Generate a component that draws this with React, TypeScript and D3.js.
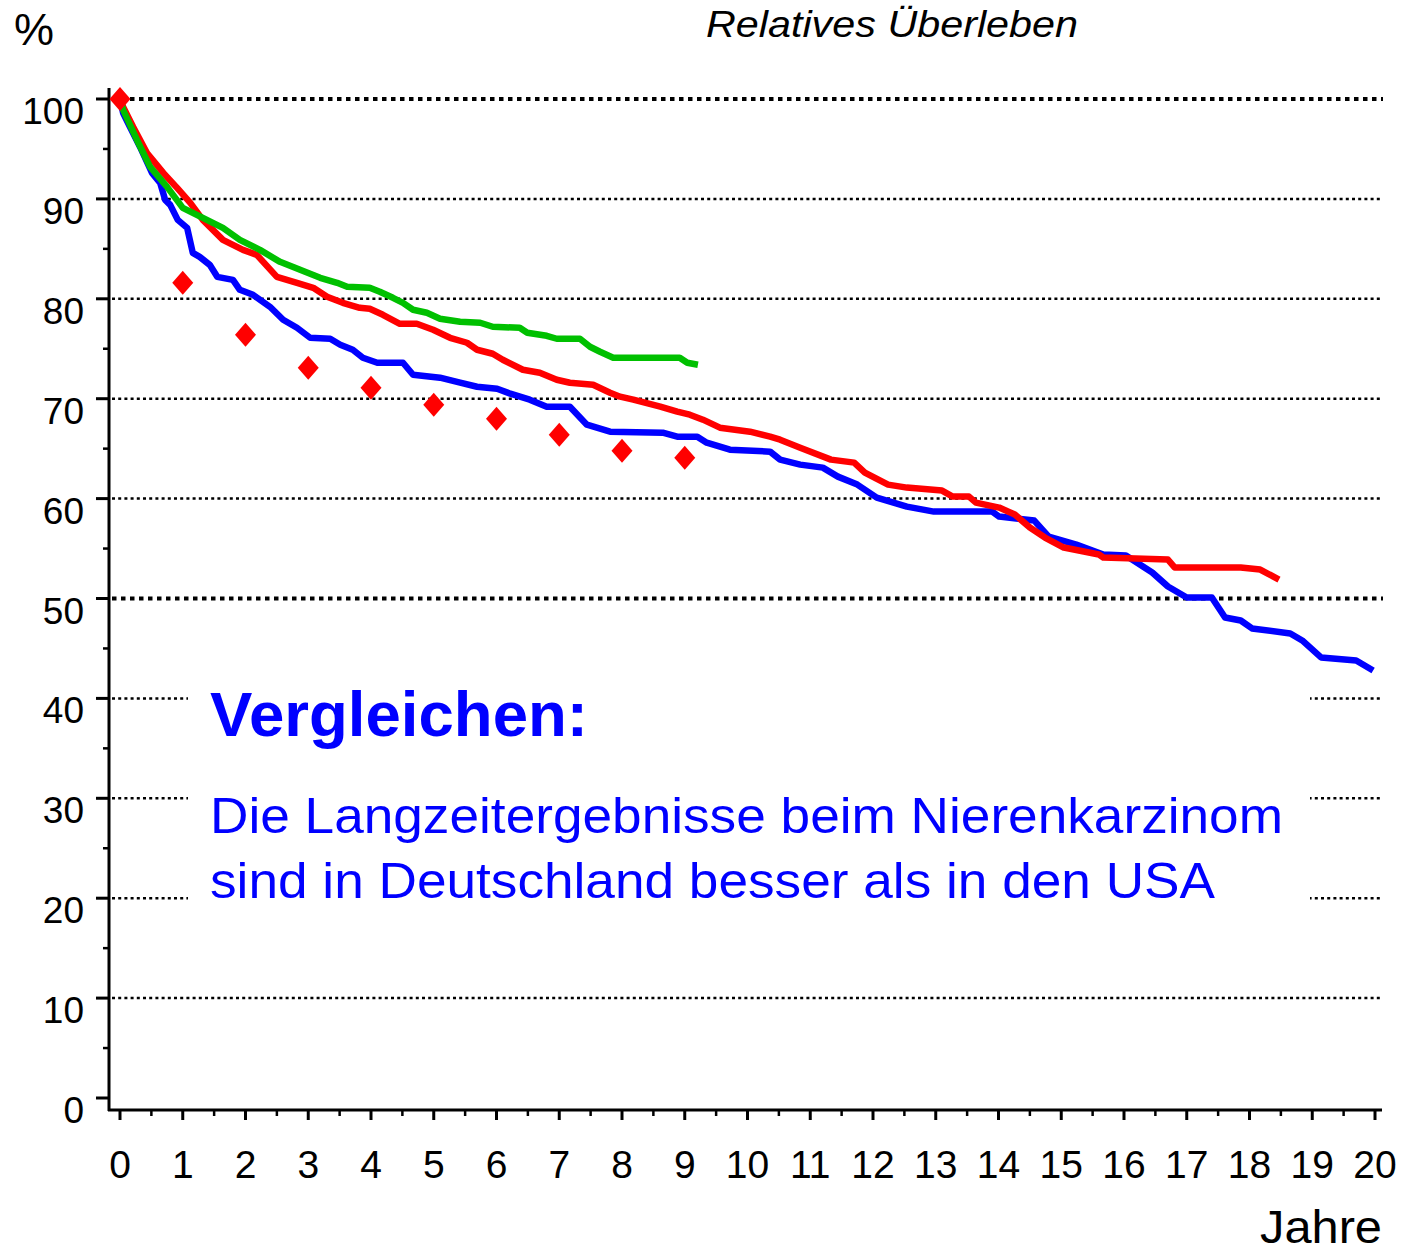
import React from "react";
import * as d3 from "d3";

// Relatives Überleben (Jahre, %)
const blueSeries: [number, number][] = [
  [0, 100], [0.05, 98.6], [0.16, 97.2], [0.32, 95.2], [0.51, 92.6], [0.64, 91.6], [0.72, 89.9],
  [0.8, 89.4], [0.92, 87.9], [1.07, 87.1], [1.16, 84.6], [1.27, 84.2], [1.43, 83.4], [1.55, 82.2],
  [1.8, 81.9], [1.91, 80.9], [2.12, 80.4], [2.39, 79.2], [2.6, 77.9], [2.82, 77.1], [3.03, 76.1],
  [3.35, 76.0], [3.51, 75.4], [3.71, 74.9], [3.87, 74.1], [4.1, 73.6], [4.51, 73.6], [4.67, 72.4],
  [5.1, 72.1], [5.42, 71.6], [5.69, 71.2], [6.01, 71.0], [6.22, 70.5], [6.53, 69.9], [6.8, 69.2],
  [7.17, 69.2], [7.44, 67.4], [7.81, 66.7], [8.65, 66.6], [8.88, 66.2], [9.2, 66.2], [9.35, 65.6],
  [9.72, 64.9], [10.36, 64.7], [10.52, 63.9], [10.84, 63.4], [11.2, 63.1], [11.44, 62.2],
  [11.75, 61.4], [12.06, 60.1], [12.54, 59.2], [12.97, 58.7], [13.9, 58.7], [14.01, 58.2],
  [14.57, 57.8], [14.8, 56.2], [15.24, 55.4], [15.67, 54.4], [16.03, 54.3], [16.45, 52.6],
  [16.7, 51.2], [17.0, 50.1], [17.4, 50.1], [17.61, 48.1], [17.86, 47.8], [18.04, 47.0],
  [18.65, 46.5], [18.84, 45.8], [19.14, 44.1], [19.7, 43.8], [19.97, 42.8],
];

const redSeries: [number, number][] = [
  [0, 100], [0.05, 99.2], [0.21, 97.2], [0.43, 94.6], [0.69, 92.6], [0.91, 91.1], [1.12, 89.6],
  [1.32, 87.9], [1.64, 85.9], [1.96, 84.9], [2.18, 84.4], [2.5, 82.2], [2.82, 81.6], [3.08, 81.1],
  [3.3, 80.2], [3.55, 79.6], [3.82, 79.1], [3.98, 79.0], [4.19, 78.4], [4.46, 77.5], [4.73, 77.5],
  [4.99, 76.9], [5.26, 76.1], [5.53, 75.6], [5.69, 74.9], [5.94, 74.5], [6.1, 73.9], [6.42, 72.9],
  [6.69, 72.6], [6.96, 71.9], [7.17, 71.6], [7.54, 71.4], [7.81, 70.6], [7.97, 70.2], [8.18, 69.9],
  [8.61, 69.2], [8.88, 68.7], [9.08, 68.4], [9.29, 67.9], [9.56, 67.1], [10.04, 66.7],
  [10.36, 66.2], [10.52, 65.9], [10.84, 65.1], [11.33, 63.9], [11.7, 63.6], [11.87, 62.6],
  [12.24, 61.4], [12.54, 61.1], [13.1, 60.8], [13.27, 60.2], [13.53, 60.2], [13.64, 59.6],
  [14.01, 59.1], [14.26, 58.4], [14.5, 57.1], [14.74, 56.1], [15.04, 55.1], [15.6, 54.4],
  [15.67, 54.1], [16.7, 53.9], [16.81, 53.1], [17.86, 53.1], [18.17, 52.9], [18.47, 51.9],
];

const greenSeries: [number, number][] = [
  [0, 100], [0.05, 98.9], [0.27, 95.9], [0.48, 93.2], [0.75, 91.2], [1.0, 89.1], [1.32, 88.1],
  [1.64, 87.1], [1.91, 85.9], [2.23, 84.9], [2.55, 83.7], [2.87, 82.9], [3.19, 82.1], [3.46, 81.6],
  [3.62, 81.2], [3.98, 81.1], [4.14, 80.7], [4.35, 80.1], [4.51, 79.6], [4.67, 78.9], [4.89, 78.6],
  [5.1, 78.0], [5.42, 77.7], [5.74, 77.6], [5.94, 77.2], [6.37, 77.1], [6.49, 76.6], [6.8, 76.3],
  [6.96, 76.0], [7.33, 76.0], [7.49, 75.2], [7.65, 74.7], [7.86, 74.1], [8.92, 74.1], [9.04, 73.6],
  [9.21, 73.4],
];

// red diamonds (USA reference values)
const diamondYears = [0, 1, 2, 3, 4, 5, 6, 7, 8, 9];
const diamondValues = [100, 81.6, 76.4, 73.1, 71.1, 69.4, 68.0, 66.4, 64.8, 64.1];

const xTicks = d3.range(0, 21);
const yTicks = d3.range(0, 101, 10);
const thickGrid = [100, 50];
const breakGrid = [40, 30, 20];

const font = "'Liberation Sans', Arial, sans-serif";

export default function App() {
  const x = d3.scaleLinear().domain([0, 20]).range([120, 1375]);
  const y = d3.scaleLinear().domain([0, 100]).range([1098, 99]);

  const line = d3
    .line<[number, number]>()
    .x((d) => x(d[0]))
    .y((d) => y(d[1]))
    .curve(d3.curveLinear);

  const diamond = (cx: number, cy: number) =>
    `M${cx},${cy - 12}L${cx + 10.5},${cy}L${cx},${cy + 12}L${cx - 10.5},${cy}Z`;

  return (
    <svg
      width={1403}
      height={1252}
      style={{ position: "absolute", left: 0, top: 0, background: "#fff" }}
      fontFamily={font}
    >
      <rect width={1403} height={1252} fill="#fff" />

      {/* grid lines */}
      {yTicks.filter((t) => t > 0).map((t) => {
        const thick = thickGrid.includes(t);
        return (
          <line
            key={"g" + t}
            x1={112}
            x2={1383}
            y1={y(t)}
            y2={y(t)}
            stroke="#000"
            strokeWidth={thick ? 4 : 2.5}
            strokeDasharray={thick ? "4.5,4.5" : "3,3.2"}
          />
        );
      })}
      {/* white panel behind the annotation cuts the grid lines */}
      <rect x={188} y={y(breakGrid[0]) - 20} width={1122} height={y(breakGrid[2]) - y(breakGrid[0]) + 40} fill="#fff" />

      {/* y axis */}
      <line x1={109} x2={109} y1={88} y2={1111} stroke="#000" strokeWidth={3} />
      {yTicks.map((t) => (
        <g key={"y" + t}>
          <line x1={96} x2={109} y1={y(t)} y2={y(t)} stroke="#000" strokeWidth={3} />
          <text x={84} y={y(t) + 25} textAnchor="end" fontSize={37}>
            {t}
          </text>
        </g>
      ))}
      {yTicks.slice(0, -1).map((t) => (
        <line key={"ym" + t} x1={103} x2={109} y1={y(t + 5)} y2={y(t + 5)} stroke="#000" strokeWidth={2.5} />
      ))}

      {/* x axis */}
      <line x1={108} x2={1382} y1={1110} y2={1110} stroke="#000" strokeWidth={3} />
      {xTicks.map((t) => (
        <g key={"x" + t}>
          <line x1={x(t)} x2={x(t)} y1={1110} y2={1120} stroke="#000" strokeWidth={3} />
          <text x={x(t)} y={1178} textAnchor="middle" fontSize={39}>
            {t}
          </text>
        </g>
      ))}
      {xTicks.slice(0, -1).map((t) => (
        <line key={"xm" + t} x1={x(t + 0.5)} x2={x(t + 0.5)} y1={1110} y2={1116} stroke="#000" strokeWidth={2.5} />
      ))}

      {/* curves */}
      <path d={line(blueSeries) ?? ""} fill="none" stroke="#0000ff" strokeWidth={6.5} strokeLinejoin="round" />
      <path d={line(redSeries) ?? ""} fill="none" stroke="#ff0000" strokeWidth={6.5} strokeLinejoin="round" />
      <path d={line(greenSeries) ?? ""} fill="none" stroke="#00c000" strokeWidth={6.5} strokeLinejoin="round" />

      {diamondYears.map((yr, i) => (
        <path key={"d" + yr} d={diamond(x(yr), y(diamondValues[i]))} fill="#ff0000" />
      ))}

      {/* labels */}
      <text x={14} y={45} fontSize={45}>%</text>
      <text x={706} y={37} fontSize={37} fontStyle="italic" textLength={372} lengthAdjust="spacingAndGlyphs">
        Relatives Überleben
      </text>
      <text x={1382} y={1243} textAnchor="end" fontSize={46} textLength={122} lengthAdjust="spacingAndGlyphs">
        Jahre
      </text>

      <text x={210} y={736} fontSize={63} fontWeight="bold" fill="#0000ff" textLength={378} lengthAdjust="spacingAndGlyphs">
        Vergleichen:
      </text>
      <text x={210} y={833} fontSize={50} fill="#0000ff" textLength={1073} lengthAdjust="spacingAndGlyphs">
        Die Langzeitergebnisse beim Nierenkarzinom
      </text>
      <text x={210} y={898} fontSize={50} fill="#0000ff" textLength={1005} lengthAdjust="spacingAndGlyphs">
        sind in Deutschland besser als in den USA
      </text>
    </svg>
  );
}
